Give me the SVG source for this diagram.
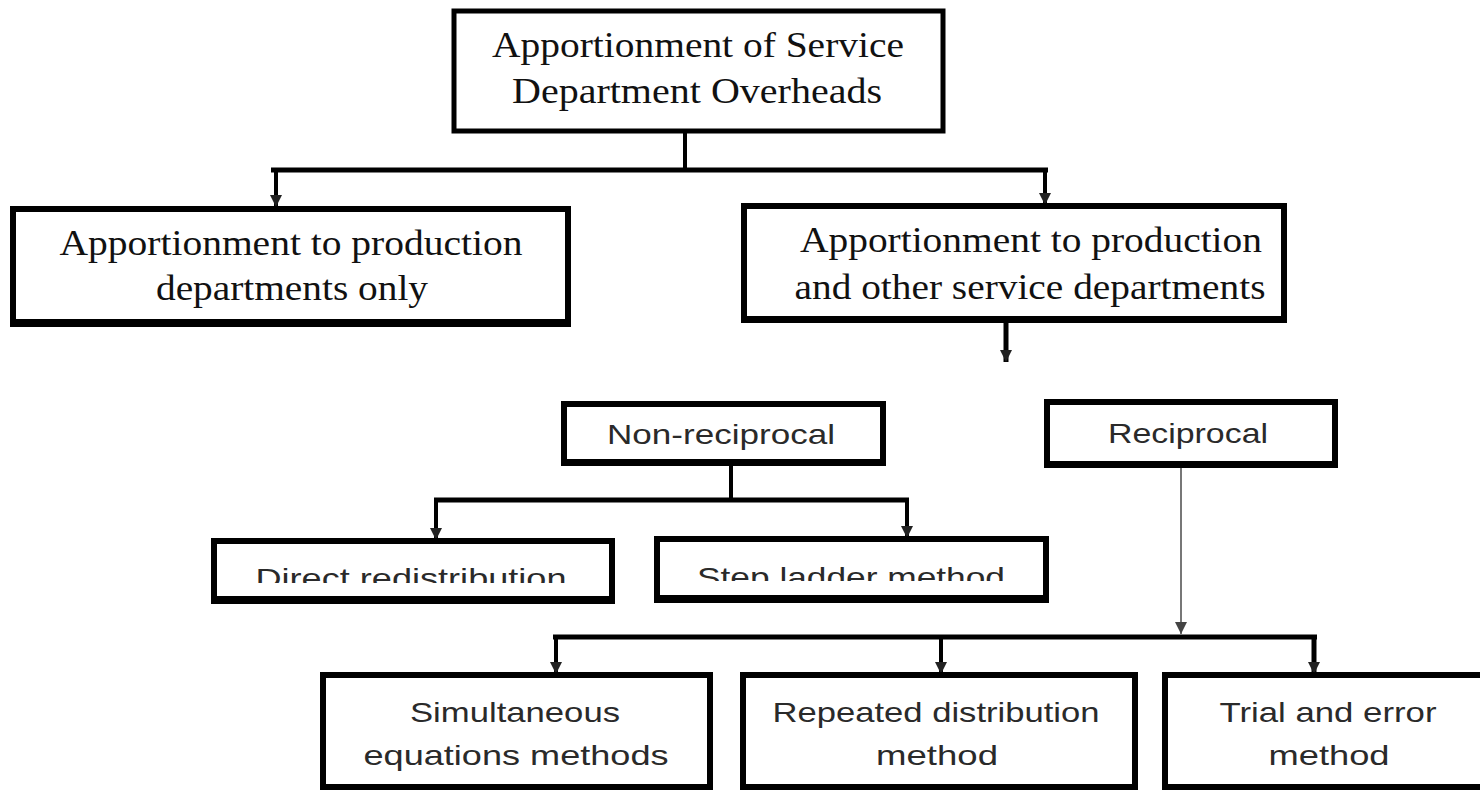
<svg xmlns="http://www.w3.org/2000/svg" width="1480" height="791" viewBox="0 0 1480 791">
<defs>
<style>
.box{fill:#fff;stroke:#000;stroke-width:6}
.bar{fill:#000}
.serif{font-family:"Liberation Serif","DejaVu Serif",serif;font-size:36px;fill:#111;text-anchor:middle}
.sans{font-family:"Liberation Sans","DejaVu Sans",sans-serif;font-size:28px;fill:#2a2a2a;text-anchor:middle}
.con{fill:none;stroke:#000;stroke-width:5}
.thin{fill:none;stroke:#000;stroke-width:4}
.gray{fill:none;stroke:#777;stroke-width:2}
</style>
<marker id="arr" viewBox="0 0 10 10" refX="10" refY="5" markerWidth="12" markerHeight="12" markerUnits="userSpaceOnUse" orient="auto">
<path d="M0,0 L10,5 L0,10 Z" fill="#222"/>
</marker>
<marker id="arrg" viewBox="0 0 10 10" refX="10" refY="5" markerWidth="12" markerHeight="12" markerUnits="userSpaceOnUse" orient="auto">
<path d="M0,0 L10,5 L0,10 Z" fill="#444"/>
</marker>
<clipPath id="clipD"><rect x="211" y="540" width="404" height="43"/></clipPath>
<clipPath id="clipS"><rect x="654" y="538" width="395" height="43"/></clipPath>
</defs>
<rect width="1480" height="791" fill="#fff"/>

<g id="connectors">
<line class="thin" x1="685" y1="133" x2="685" y2="170"/>
<line class="con" x1="271" y1="170" x2="1048" y2="170"/>
<line class="thin" x1="276" y1="168" x2="276" y2="207" marker-end="url(#arr)"/>
<line class="thin" x1="1045" y1="168" x2="1045" y2="205" marker-end="url(#arr)"/>
<line class="con" x1="1006" y1="322" x2="1006" y2="362" marker-end="url(#arr)"/>
<line class="thin" x1="731" y1="466" x2="731" y2="498"/>
<line class="con" x1="434" y1="500" x2="909" y2="500"/>
<line class="thin" x1="436" y1="498" x2="436" y2="540" marker-end="url(#arr)"/>
<line class="thin" x1="907" y1="498" x2="907" y2="538" marker-end="url(#arr)"/>
<line class="gray" x1="1181" y1="468" x2="1181" y2="634" marker-end="url(#arrg)"/>
<line class="con" x1="553" y1="637" x2="1317" y2="637"/>
<line class="thin" x1="556" y1="635" x2="556" y2="674" marker-end="url(#arr)"/>
<line class="thin" x1="941" y1="635" x2="941" y2="674" marker-end="url(#arr)"/>
<line class="con" x1="1314" y1="635" x2="1314" y2="674" marker-end="url(#arr)"/>
</g>

<g id="top">
<rect class="box" x="454" y="11" width="489" height="120" style="stroke-width:5"/>
<text class="serif" x="698" y="57" textLength="412" lengthAdjust="spacingAndGlyphs">Apportionment  of Service</text>
<text class="serif" x="697" y="103" textLength="370" lengthAdjust="spacingAndGlyphs">Department  Overheads</text>
</g>

<g id="prodOnly">
<rect class="box" x="13" y="209" width="555" height="114"/>
<rect class="bar" x="10" y="319" width="561" height="8"/>
<text class="serif" x="291" y="255" textLength="463" lengthAdjust="spacingAndGlyphs">Apportionment  to production</text>
<text class="serif" x="292" y="300" textLength="272" lengthAdjust="spacingAndGlyphs">departments  only</text>
</g>

<g id="prodOther">
<rect class="box" x="744" y="206" width="540" height="113"/>
<rect class="bar" x="741" y="316" width="546" height="7"/>
<text class="serif" x="1031" y="252" textLength="462" lengthAdjust="spacingAndGlyphs">Apportionment  to production</text>
<text class="serif" x="1030" y="299" textLength="471" lengthAdjust="spacingAndGlyphs">and other  service  departments</text>
</g>

<g id="nonRecip">
<rect class="box" x="564" y="404" width="319" height="59"/>
<rect class="bar" x="561" y="459" width="325" height="7"/>
<text class="sans" x="721" y="444" textLength="228" lengthAdjust="spacingAndGlyphs">Non-reciprocal</text>
</g>

<g id="recip">
<rect class="box" x="1047" y="402" width="288" height="63"/>
<rect class="bar" x="1044" y="461" width="294" height="7"/>
<text class="sans" x="1188" y="443" textLength="160" lengthAdjust="spacingAndGlyphs">Reciprocal</text>
</g>

<g id="direct">
<rect class="box" x="214" y="541" width="398" height="60"/>
<rect class="bar" x="211" y="596" width="404" height="8"/>
<text class="sans" x="411" y="588" textLength="311" lengthAdjust="spacingAndGlyphs" clip-path="url(#clipD)">Direct redistribution</text>
</g>

<g id="stepLadder">
<rect class="box" x="657" y="539" width="389" height="61"/>
<rect class="bar" x="654" y="595" width="395" height="8"/>
<text class="sans" x="851" y="587" textLength="308" lengthAdjust="spacingAndGlyphs" clip-path="url(#clipS)">Step ladder method</text>
</g>

<g id="simultaneous">
<rect class="box" x="323" y="675" width="387" height="112"/>
<text class="sans" x="515" y="722" textLength="210" lengthAdjust="spacingAndGlyphs">Simultaneous</text>
<text class="sans" x="516" y="765" textLength="305" lengthAdjust="spacingAndGlyphs">equations methods</text>
</g>

<g id="repeated">
<rect class="box" x="743" y="675" width="392" height="112"/>
<text class="sans" x="936" y="722" textLength="327" lengthAdjust="spacingAndGlyphs">Repeated distribution</text>
<text class="sans" x="937" y="765" textLength="122" lengthAdjust="spacingAndGlyphs">method</text>
</g>

<g id="trial">
<rect class="box" x="1165" y="675" width="330" height="112"/>
<text class="sans" x="1328" y="722" textLength="217" lengthAdjust="spacingAndGlyphs">Trial and error</text>
<text class="sans" x="1329" y="765" textLength="121" lengthAdjust="spacingAndGlyphs">method</text>
</g>
</svg>
